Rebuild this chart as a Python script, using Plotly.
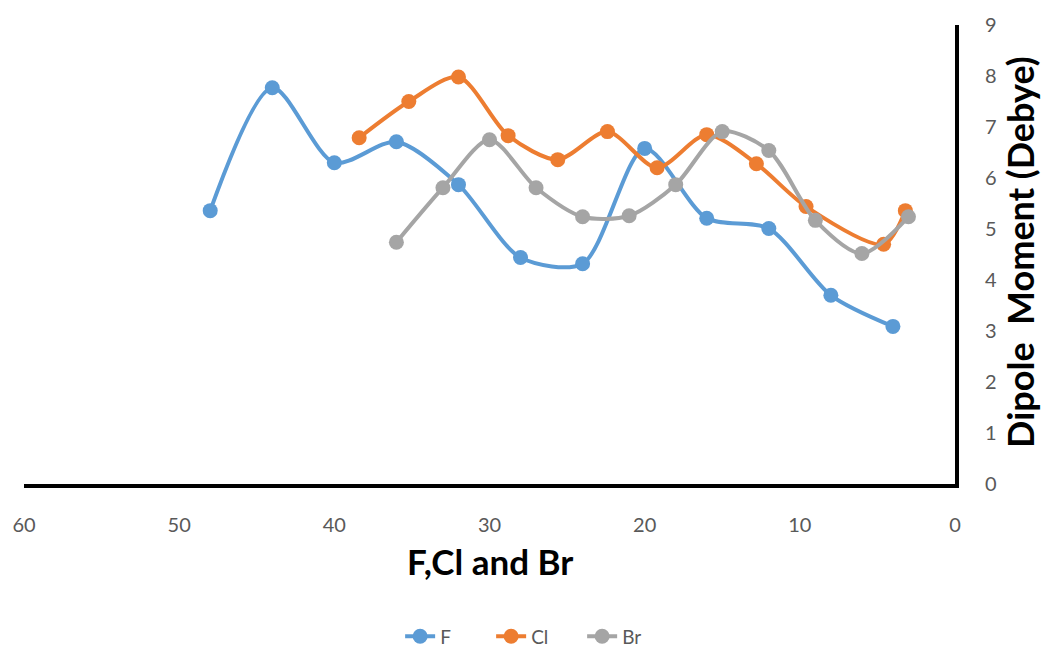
import plotly.graph_objects as go

# Dipole moment (Debye) for the F, Cl and Br series
f_x = [48, 44, 40, 36, 32, 28, 24, 20, 16, 12, 8, 4]
f_y = [5.36, 7.77, 6.30, 6.71, 5.87, 4.44, 4.32, 6.58, 5.21, 5.01, 3.70, 3.09]

cl_x = [38.4, 35.2, 32.0, 28.8, 25.6, 22.4, 19.2, 16.0, 12.8, 9.6, 4.6, 3.2]
cl_y = [6.79, 7.50, 7.98, 6.83, 6.36, 6.91, 6.20, 6.85, 6.28, 5.44, 4.70, 5.36]

br_x = [36, 33, 30, 27, 24, 21, 18, 15, 12, 9, 6, 3]
br_y = [4.74, 5.81, 6.75, 5.81, 5.24, 5.26, 5.87, 6.91, 6.54, 5.17, 4.52, 5.24]

series = [
    ("F", f_x, f_y, "#5B9BD5"),
    ("Cl", cl_x, cl_y, "#ED7D31"),
    ("Br", br_x, br_y, "#A5A5A5"),
]

FONT = "Lato, Open Sans, sans-serif"

fig = go.Figure()
for name, xs, ys, color in series:
    fig.add_trace(go.Scatter(
        x=xs, y=ys, name=name, mode="lines+markers",
        line=dict(color=color, width=4, shape="spline", smoothing=0.8),
        marker=dict(color=color, size=15),
    ))

fig.update_layout(
    width=1042, height=650,
    margin=dict(l=21, r=87, t=24, b=166),
    paper_bgcolor="white", plot_bgcolor="white",
    font=dict(family=FONT, color="#595959", size=20),
    showlegend=True,
    legend=dict(
        orientation="h", xref="container", yref="container",
        x=0.515, xanchor="center", y=0.021, yanchor="middle",
        font=dict(size=19, color="#595959"),
        entrywidth=46, entrywidthmode="pixels",
    ),
    xaxis=dict(
        range=[60, 0], tickvals=[60, 50, 40, 30, 20, 10, 0],
        showgrid=False, zeroline=False,
        showline=True, linecolor="black", linewidth=4,
        ticks="", ticklabelstandoff=20,
    ),
    yaxis=dict(
        range=[0, 9], dtick=1, side="right",
        showgrid=False, zeroline=False,
        showline=True, linecolor="black", linewidth=4,
        ticks="", ticklabelstandoff=22,
    ),
    annotations=[
        dict(text="<b>F,Cl and Br</b>", xref="paper", yref="paper",
             x=0.5, y=-0.168, xanchor="center", yanchor="middle",
             showarrow=False, font=dict(family=FONT, size=35, color="black")),
        dict(text="<b>Dipole  Moment (Debye)</b>", xref="paper", yref="paper",
             x=1.07, y=0.506, xanchor="center", yanchor="middle", textangle=-90,
             showarrow=False, font=dict(family=FONT, size=36, color="black")),
    ],
)

fig.write_html("out.html")
